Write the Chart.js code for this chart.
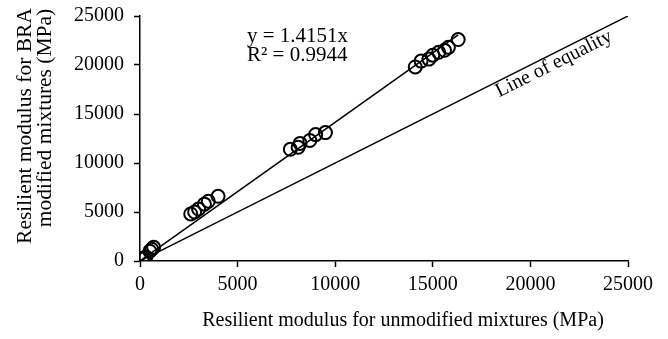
<!DOCTYPE html>
<html>
<head>
<meta charset="utf-8">
<script src="https://cdn.jsdelivr.net/npm/chart.js@4/dist/chart.umd.min.js"></script>
<style>
  html, body { margin: 0; padding: 0; background: #fff; }
  #wrap { width: 668px; height: 339px; position: relative; }
</style>
</head>
<body>
<div id="wrap"><canvas id="chart"></canvas></div>
<script>
// measured values (MPa), unmodified vs BRA modified
const unmodified = [100, 200, 300, 500, 600, 700,
  2600, 2800, 3000, 3300, 3500, 4000,
  7700, 8100, 8200, 8700, 9000, 9500,
  14100, 14400, 14800, 15000, 15300, 15600, 15800, 16300];
const modified = [200, 300, 400, 1000, 1200, 1400,
  4800, 5000, 5300, 5800, 6100, 6600,
  11400, 11600, 12000, 12300, 12900, 13100,
  19800, 20400, 20600, 21000, 21300, 21500, 21800, 22600];
const slope = 1.4151;
const rSquared = 0.9944;
const axisTicks = [0, 5000, 10000, 15000, 20000, 25000];
const xTitle = 'Resilient modulus for unmodified mixtures (MPa)';
const yTitle = ['Resilient modulus for BRA', 'modified mixtures (MPa)'];

const font = "'Liberation Serif', 'Times New Roman', serif";

const points = unmodified.map((x, i) => ({ x: x, y: modified[i] }));
const trendEnd = Math.max(...unmodified);
const trend = [{ x: 0, y: 0 }, { x: trendEnd, y: slope * trendEnd }];
const equality = [{ x: 0, y: 0 }, { x: 25000, y: 25000 }];

// axis titles and text labels, drawn by hand so they can sit off-centre like the original
const labels = {
  id: 'labels',
  afterDatasetsDraw(chart) {
    const { ctx, chartArea } = chart;
    ctx.save();
    ctx.fillStyle = '#000';
    ctx.font = '21px ' + font;
    ctx.textBaseline = 'alphabetic';
    ctx.fillText('y = ' + slope + 'x', chartArea.left + 107, chartArea.top + 26);
    ctx.fillText('R\u00B2 = ' + rSquared, chartArea.left + 107, chartArea.top + 45);

    // x title
    ctx.font = '20px ' + font;
    ctx.textAlign = 'center';
    ctx.textBaseline = 'middle';
    ctx.fillText(xTitle, 403, 321);

    // y title (two lines)
    ctx.save();
    ctx.font = '21.5px ' + font;
    ctx.rotate(-Math.PI / 2);
    ctx.fillText(yTitle[0], -126, 25);
    ctx.fillText(yTitle[1], -118, 45.5);
    ctx.restore();

    // label along the line of equality, just below it
    ctx.font = '20px ' + font;
    ctx.textBaseline = 'middle';
    ctx.translate(chartArea.left + 414, chartArea.top + 48);
    ctx.rotate(-Math.atan2(chartArea.bottom - chartArea.top, chartArea.right - chartArea.left));
    ctx.fillText('Line of equality', 0, 0);
    ctx.restore();
  }
};

const tickStyle = { color: '#000', font: { family: font, size: 20 }, callback: (v) => String(v) };
const gridStyle = { display: true, drawOnChartArea: false, drawTicks: true, tickLength: 6, tickWidth: 1.5, color: '#000' };

new Chart(document.getElementById('chart'), {
  type: 'scatter',
  data: {
    datasets: [
      {
        data: points,
        pointStyle: 'circle',
        pointRadius: 6.5,
        pointBorderWidth: 2,
        pointBorderColor: '#000',
        pointBackgroundColor: 'rgba(0,0,0,0)',
        showLine: false
      },
      {
        data: trend,
        showLine: true,
        borderColor: '#000',
        borderWidth: 1.5,
        pointRadius: 0
      },
      {
        data: equality,
        showLine: true,
        borderColor: '#000',
        borderWidth: 1.5,
        pointRadius: 0
      }
    ]
  },
  plugins: [labels],
  options: {
    responsive: true,
    maintainAspectRatio: false,
    animation: false,
    layout: { padding: { top: 16, right: 40, left: 0, bottom: 0 } },
    plugins: { legend: { display: false }, tooltip: { enabled: false } },
    scales: {
      x: {
        type: 'linear',
        min: 0,
        max: 25000,
        afterBuildTicks: (s) => { s.ticks = axisTicks.map((v) => ({ value: v })); },
        afterFit: (s) => { s.height = 78; s.paddingLeft = 0; s.paddingRight = 0; },
        grid: gridStyle,
        border: { display: true, color: '#000', width: 1.5 },
        ticks: Object.assign({ padding: 6, maxRotation: 0 }, tickStyle)
      },
      y: {
        type: 'linear',
        min: 0,
        max: 25000,
        afterBuildTicks: (s) => { s.ticks = axisTicks.map((v) => ({ value: v })); },
        afterFit: (s) => { s.width = 140; s.paddingTop = 0; s.paddingBottom = 0; },
        grid: gridStyle,
        border: { display: true, color: '#000', width: 1.5 },
        ticks: Object.assign({ padding: 10 }, tickStyle)
      }
    }
  }
});
</script>
</body>
</html>
